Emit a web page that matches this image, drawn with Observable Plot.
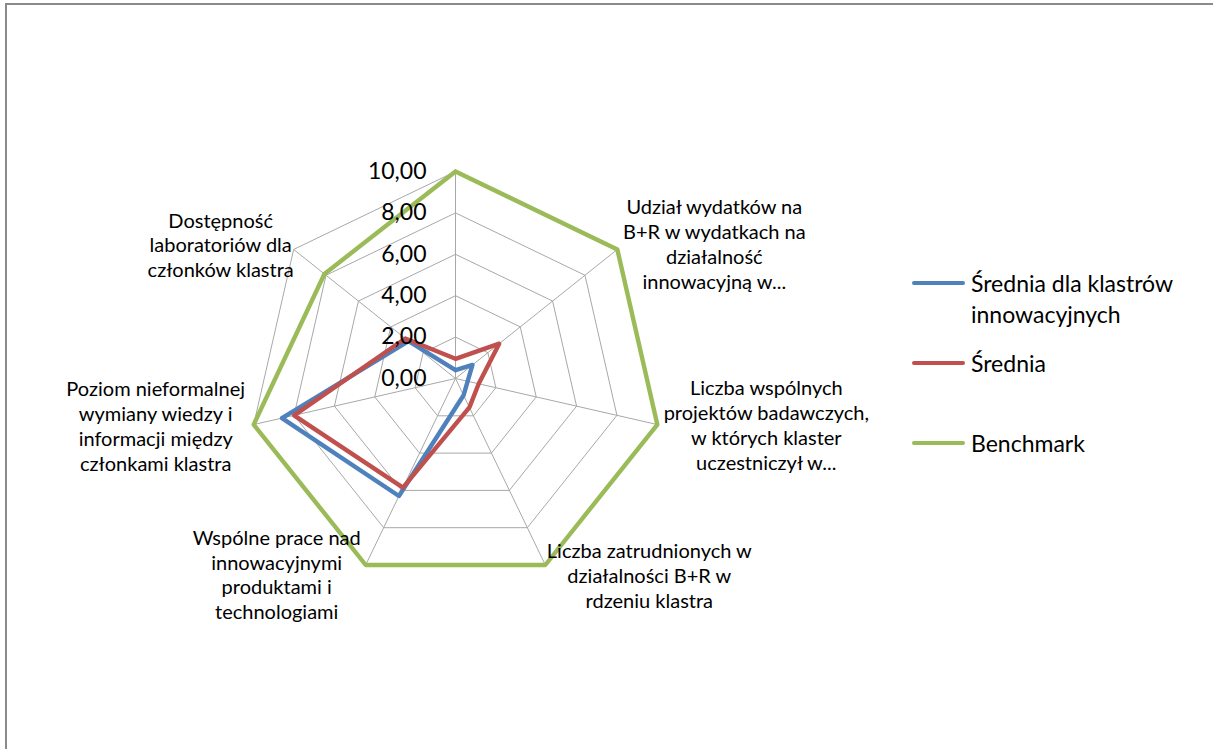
<!DOCTYPE html>
<html><head><meta charset="utf-8">
<script src="https://cdn.jsdelivr.net/npm/d3@7"></script>
<script src="https://cdn.jsdelivr.net/npm/@observablehq/plot@0.6"></script>
<style>
body{margin:0;background:#fff;}
#wrap{position:relative;width:1213px;height:749px;overflow:hidden;font-family:Lato,sans-serif;background:#fff;}
.bt{position:absolute;left:5px;top:3px;right:0;height:2px;background:#8a8a8a;}
.bl{position:absolute;left:5px;top:3px;width:2px;bottom:0;background:#8a8a8a;}
#chart{position:absolute;left:0;top:0;}
.item{position:absolute;left:912px;font-size:23px;line-height:31px;color:#000;}
.item .sw{position:absolute;left:0;top:13px;width:53px;height:4px;border-radius:2px;}
.item .tx{position:absolute;left:59px;top:0;width:240px;white-space:normal;}
</style></head><body><div id="wrap"><div id="chart"></div><div class="bt"></div><div class="bl"></div></div>
<script>
// categories clockwise from the top axis
const categories = [
  "",
  "Udział wydatków na\nB+R w wydatkach na\ndziałalność\ninnowacyjną w...",
  "Liczba wspólnych\nprojektów badawczych,\nw których klaster\nuczestniczył w...",
  "Liczba zatrudnionych w\ndziałalności B+R w\nrdzeniu klastra",
  "Wspólne prace nad\ninnowacyjnymi\nproduktami i\ntechnologiami",
  "Poziom nieformalnej\nwymiany wiedzy i\ninformacji między\nczłonkami klastra",
  "Dostępność\nlaboratoriów dla\nczłonków klastra"
];
const seriesNames = ["Średnia dla klastrów innowacyjnych", "Średnia", "Benchmark"];
const seriesColors = ["#4F81BD", "#C0504D", "#9BBB59"];
const valuesInnov = [0.4, 1.05, 0.6, 0.9, 6.3, 8.6, 2.9];
const valuesAvg = [0.95, 2.7, 1.15, 1.55, 5.85, 8.0, 3.1];
const valuesBench = [10, 10, 10, 10, 10, 10, 8.1];
const tickValues = [0, 2, 4, 6, 8, 10];
const tickLabels = ["0,00", "2,00", "4,00", "6,00", "8,00", "10,00"];

// layout (pixel offsets of category labels from the outer vertex)
const labelOffsets = [[0, -20], [97, -6], [109, 0], [104, 10], [-89, 9], [-98, 1], [-73, -5]];
const legendTops = [268, 348, 428];

const n = categories.length;
const ang = k => 2 * Math.PI * k / n;
const pt = (r, k) => ({x: r * Math.sin(ang(k)), y: r * Math.cos(ang(k))});
const closed = vals => vals.map((v, k) => pt(v, k)).concat([pt(vals[0], 0)]);

const rings = tickValues.filter(t => t > 0).flatMap(t =>
  d3.range(n + 1).map(k => ({...pt(t, k % n), t})));
const spokes = categories.map((c, k) => ({k, ...pt(10, k)}));
const seriesValues = [valuesInnov, valuesAvg, valuesBench];

const marks = [
  Plot.line(rings, {x: "x", y: "y", z: "t", stroke: "#a8a8a8", strokeWidth: 1}),
  Plot.link(spokes, {x1: 0, y1: 0, x2: "x", y2: "y", stroke: "#a8a8a8", strokeWidth: 1}),
  ...seriesValues.map((vals, i) => Plot.line(closed(vals), {
    x: "x", y: "y", stroke: seriesColors[i], strokeWidth: 4.4,
    strokeLinejoin: "round", strokeLinecap: "round"
  })),
  Plot.text(tickValues, {
    x: 0, y: d => d, text: (d, i) => tickLabels[i],
    textAnchor: "end", dx: -29, fontSize: 23, fill: "#000"
  }),
  ...categories.map((c, k) => Plot.text([c], {
    x: pt(10, k).x, y: pt(10, k).y, text: d => d,
    textAnchor: "middle", lineAnchor: "middle", lineHeight: 1.24,
    dx: labelOffsets[k][0], dy: labelOffsets[k][1], fontSize: 20, fill: "#000"
  }))
];

const chart = Plot.plot({
  width: 1213, height: 749, margin: 0,
  style: {fontFamily: "Lato, sans-serif", background: "transparent", overflow: "visible"},
  x: {domain: [-10, 10], range: [248, 662], axis: null},
  y: {domain: [-10, 10], range: [585, 171], axis: null},
  marks
});
document.getElementById("chart").appendChild(chart);

const wrap = d3.select("#wrap");
seriesNames.forEach((name, i) => {
  const it = wrap.append("div").attr("class", "item").style("top", legendTops[i] + "px");
  it.append("div").attr("class", "sw").style("background", seriesColors[i]);
  it.append("div").attr("class", "tx").text(name);
});
</script></body></html>
